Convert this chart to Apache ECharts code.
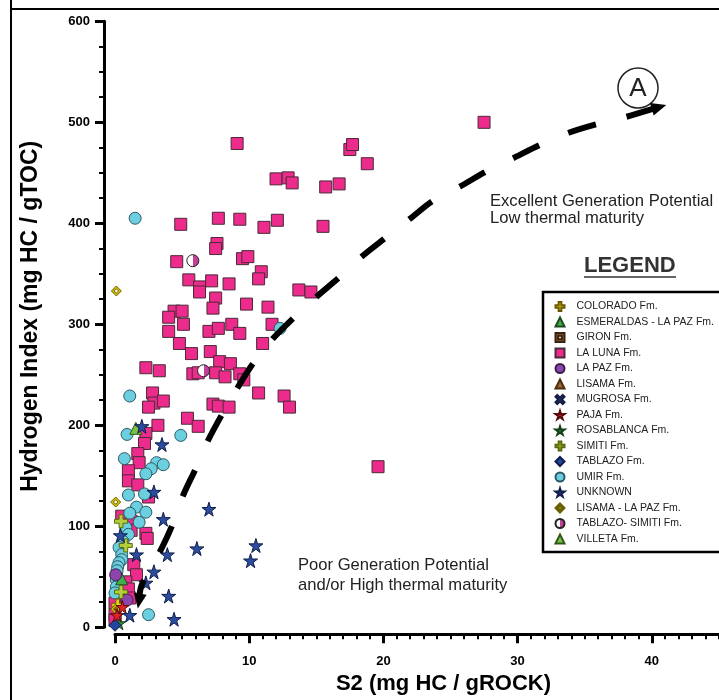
<!DOCTYPE html>
<html>
<head>
<meta charset="utf-8">
<script src="https://cdn.jsdelivr.net/npm/echarts/dist/echarts.min.js"></script>
<style>
html, body { margin: 0; padding: 0; background: #fff; }
#chart { width: 719px; height: 700px; }
</style>
</head>
<body>
<div id="chart"></div>
<script>
// S2 (mg HC/g rock) vs Hydrogen Index, one array per formation
const laLuna = [
    [9.1, 479], [17.5, 473], [17.7, 478], [18.8, 459], [12.0, 444], [12.9, 445], [13.2, 440], [15.7, 436], [16.7, 439],
    [4.9, 399], [7.7, 405], [9.3, 404], [11.1, 396], [12.1, 403], [15.5, 397],
    [7.6, 380], [7.5, 375], [9.5, 365], [9.9, 367], [4.6, 362], [10.9, 352], [10.7, 345], [5.5, 344], [6.3, 337],
    [6.3, 332], [7.2, 343], [8.5, 340], [13.7, 334], [14.6, 332],
    [7.5, 326], [7.3, 316], [9.8, 320], [11.4, 317], [4.4, 313], [4.0, 307], [5.0, 313], [5.1, 300], [4.0, 293],
    [7.0, 293], [7.7, 296], [8.7, 300], [9.3, 291], [11.7, 300],
    [4.8, 281], [11.0, 281], [5.7, 271], [7.1, 273], [7.8, 263], [8.6, 261], [2.3, 257], [3.3, 254], [5.8, 251],
    [6.2, 252], [7.5, 252], [8.2, 248], [9.3, 251], [9.6, 245],
    [10.7, 232], [12.6, 229], [2.8, 232], [2.9, 222], [3.6, 224], [2.5, 218], [7.3, 221], [7.7, 219], [8.5, 218], [13.0, 218],
    [27.5, 500], [19.6, 159],
    [5.4, 207], [6.2, 199], [3.2, 200], [2.3, 192], [2.2, 182], [1.7, 172], [1.8, 163], [1.0, 155], [1.0, 145], [1.7, 141], [2.5, 129],
    [0.5, 110], [1.2, 105], [1.2, 96], [2.3, 93], [2.4, 88], [1.4, 62], [1.6, 52], [0.8, 45], [1.0, 38], [1.1, 29],
    [0.0, 24], [0.0, 12], [0.0, 7]
];
const umir = [
    [1.5, 405], [12.3, 296], [1.1, 229], [0.9, 191], [4.9, 190], [0.7, 167], [3.1, 163], [3.6, 161], [2.7, 157], [2.3, 152],
    [1.0, 131], [2.2, 132], [1.6, 119], [1.1, 113], [2.3, 114], [1.8, 104], [0.8, 99], [1.0, 92], [0.6, 85], [0.3, 79],
    [0.5, 72], [0.5, 67], [0.3, 64], [0.2, 60], [0.15, 56], [0.1, 47], [0.1, 40], [0.0, 34], [2.5, 12.5]
];
const unknown = [
    [2.0, 199], [3.5, 181], [2.9, 134], [7.0, 117], [3.6, 107], [6.1, 78], [3.9, 72], [1.6, 72], [10.5, 81], [10.1, 66],
    [2.9, 55], [2.3, 44], [4.0, 31], [4.4, 8], [1.1, 12], [0.4, 91]
];
const tablazoSimiti = [[5.8, 363], [6.6, 254]];
const lisamaLaPaz = [[0.1, 333], [0.05, 124], [0.05, 18]];
const simiti = [[0.45, 105], [0.8, 81], [0.45, 35]];
const villeta = [[1.55, 197]];
const esmeraldas = [[0.5, 48]];
const laPaz = [[0.05, 52], [0.9, 27]];
const paja = [[0.55, 20], [0.15, 12]];
const tablazo = [[0.0, 2]];
const rosablanca = [[0.3, 4]];
const colorado = [[0.2, 22]];
const mugrosa = [];
const giron = [];
const lisama = [];

// dashed trend arrow "A"
const trendA = [
    [1.79, 25.9], [1.99, 41.9], [3.35, 74.9], [4.22, 99.6], [5.09, 131], [5.96, 155.7], [6.95, 185.4], [7.95, 210.2],
    [9.18, 238.2], [10.3, 261.4], [11.79, 286.1], [13.28, 306], [15.02, 327.3], [16.63, 345.5], [18.37, 366.9],
    [20.1, 385.1], [21.97, 404.3], [23.66, 422.1], [25.69, 436.2], [27.63, 451.1], [29.66, 464.4], [31.65, 477.5],
    [33.8, 489.7], [35.91, 498.3], [38.12, 505.5], [40.54, 515.1]
];

const xTicks = { min: 0, max: 50, step: 10 };
const yTicks = { min: 0, max: 600, step: 100 };

const FONT = "'Liberation Sans', Arial, sans-serif";
const STAR = 'path://M50,0 L61,35 L98,35 L68,57 L79,91 L50,70 L21,91 L32,57 L2,35 L39,35 Z';
const PLUS = 'path://M35,0 H65 V35 H100 V65 H65 V100 H35 V65 H0 V35 H35 Z';
const CROSS = 'path://M20,0 L50,30 L80,0 L100,20 L70,50 L100,80 L80,100 L50,70 L20,100 L0,80 L30,50 L0,20 Z';
const HOLLOW_SQ = 'path://M0,0 H100 V100 H0 Z M30,30 V70 H70 V30 Z';
const HOLLOW_DIA = 'path://M50,0 L100,50 L50,100 L0,50 Z M50,28 L28,50 L50,72 L72,50 Z';

const halfFill = new echarts.graphic.LinearGradient(0, 0, 1, 0, [
    { offset: 0, color: '#ffffff' },
    { offset: 0.5, color: '#ffffff' },
    { offset: 0.5, color: '#c2409a' },
    { offset: 1, color: '#c2409a' }
]);

const formations = [
    ['COLORADO Fm.', colorado, PLUS, 12, '#e8d31c', '#6b5a00'],
    ['ESMERALDAS - LA PAZ Fm.', esmeraldas, 'triangle', 12, '#3fae49', '#1d4d1f'],
    ['GIRON Fm.', giron, HOLLOW_SQ, 11, '#8b5a2b', '#3a2410'],
    ['LA LUNA Fm.', laLuna, 'rect', 12, '#ec2b8c', '#4a2a38'],
    ['LA PAZ Fm.', laPaz, 'circle', 12, '#8e44ad', '#3a1f4a'],
    ['LISAMA Fm.', lisama, 'triangle', 12, '#a0652d', '#4a2e10'],
    ['MUGROSA Fm.', mugrosa, CROSS, 11, '#2c3a7a', '#141c40'],
    ['PAJA Fm.', paja, STAR, 13, '#e02424', '#5a0a0a'],
    ['ROSABLANCA Fm.', rosablanca, STAR, 13, '#2f8f3a', '#153f18'],
    ['SIMITI Fm.', simiti, PLUS, 13, '#b5cf3a', '#5a6a10'],
    ['TABLAZO Fm.', tablazo, 'diamond', 12, '#2346a0', '#0e1d4a'],
    ['UMIR Fm.', umir, 'circle', 12, '#6ccfe0', '#2c5a66'],
    ['UNKNOWN', unknown, STAR, 14, '#2b4c9f', '#0e1d4a'],
    ['LISAMA - LA PAZ Fm.', lisamaLaPaz, HOLLOW_DIA, 10, '#d6c300', '#6b6000'],
    ['TABLAZO- SIMITI Fm.', tablazoSimiti, 'circle', 12, halfFill, '#222'],
    ['VILLETA Fm.', villeta, 'triangle', 12, '#7cc242', '#2f5a18']
];

// draw order: pink squares first, then circles, stars on top
const drawOrder = [3, 11, 0, 1, 2, 4, 5, 6, 8, 9, 10, 13, 14, 15, 7, 12];

const series = drawOrder.map((i) => {
    const f = formations[i];
    return {
        name: f[0],
        type: 'scatter',
        data: f[1],
        symbol: f[2],
        symbolSize: f[3],
        clip: false,
        itemStyle: { color: f[4], borderColor: f[5], borderWidth: 1, opacity: 1 }
    };
});

const last = trendA.length - 1;
series.push({
    name: 'trend',
    type: 'line',
    silent: true,
    clip: false,
    smooth: 0.3,
    symbol: 'none',
    data: trendA.map((p, i) => {
        if (i === 0) return { value: p, symbol: 'triangle', symbolSize: [13, 15], symbolRotate: 170.8 };
        if (i === last) return { value: p, symbol: 'triangle', symbolSize: [13, 15], symbolRotate: -73.3 };
        return p;
    }),
    itemStyle: { color: '#000' },
    lineStyle: { color: '#000', width: 6, type: [29, 31.6], dashOffset: 7, cap: 'butt' },
    z: 5
});

const option = {
    animation: false,
    backgroundColor: '#fff',
    grid: { left: 115, right: -67, top: 21.3, bottom: 72.7, containLabel: false, outerBoundsMode: 'none' },
    xAxis: {
        type: 'value',
        min: xTicks.min,
        max: xTicks.max,
        interval: xTicks.step,
        offset: 7,
        axisLine: { show: true, onZero: false, lineStyle: { color: '#000', width: 3 } },
        axisTick: { show: true, inside: false, length: 9, lineStyle: { color: '#000', width: 3 } },
        minorTick: { show: true, splitNumber: 10, length: 5, lineStyle: { color: '#000', width: 2 } },
        splitLine: { show: false },
        minorSplitLine: { show: false },
        axisLabel: { margin: 21, fontSize: 13, fontWeight: 'bold', color: '#000', fontFamily: FONT },
        name: 'S2 (mg HC / gROCK)',
        nameLocation: 'middle',
        nameGap: 37,
        nameTextStyle: { fontSize: 22, fontWeight: 'bold', color: '#000', fontFamily: FONT, padding: [0, 14, 0, 0] }
    },
    yAxis: {
        type: 'value',
        min: yTicks.min,
        max: yTicks.max,
        interval: yTicks.step,
        offset: 11,
        axisLine: { show: true, onZero: false, lineStyle: { color: '#000', width: 3 } },
        axisTick: { show: true, inside: false, length: 9, lineStyle: { color: '#000', width: 3 } },
        minorTick: { show: true, splitNumber: 4, length: 5, lineStyle: { color: '#000', width: 2 } },
        splitLine: { show: false },
        minorSplitLine: { show: false },
        axisLabel: { margin: 14, fontSize: 13, fontWeight: 'bold', color: '#000', fontFamily: FONT },
        name: 'Hydrogen Index (mg HC / gTOC)',
        nameLocation: 'middle',
        nameGap: 62,
        nameTextStyle: { fontSize: 23, fontWeight: 'bold', color: '#000', fontFamily: FONT, padding: [0, 0, 0, 16] }
    },
    legend: {
        data: formations.map((f) => f[0]),
        orient: 'vertical',
        left: 554.5,
        top: 301,
        padding: 0,
        itemWidth: 9,
        itemHeight: 9,
        itemGap: 4.5,
        selectedMode: false,
        textStyle: { fontSize: 10.5, color: '#222', fontFamily: FONT, padding: [0, 0, 0, 7] }
    },
    graphic: [
        { type: 'line', shape: { x1: 11, y1: 0, x2: 11, y2: 700 }, style: { stroke: '#000', lineWidth: 2 } },
        { type: 'line', shape: { x1: 11, y1: 9, x2: 719, y2: 9 }, style: { stroke: '#000', lineWidth: 2 } },
        { type: 'rect', shape: { x: 543, y: 292, width: 200, height: 260 }, style: { fill: 'none', stroke: '#000', lineWidth: 2.5 } },
        {
            type: 'text', x: 584, y: 266,
            style: { text: 'LEGEND', fontSize: 22, fontWeight: 'bold', fontFamily: FONT, fill: '#333', verticalAlign: 'middle', textVerticalAlign: 'middle' }
        },
        { type: 'line', shape: { x1: 584, y1: 277, x2: 676, y2: 277 }, style: { stroke: '#333', lineWidth: 1.5 } },
        {
            type: 'text', x: 490, y: 201,
            style: { text: 'Excellent Generation Potential', fontSize: 16.6, fontFamily: FONT, fill: '#222', verticalAlign: 'middle', textVerticalAlign: 'middle' }
        },
        {
            type: 'text', x: 490, y: 218,
            style: { text: 'Low thermal maturity', fontSize: 16.6, fontFamily: FONT, fill: '#222', verticalAlign: 'middle', textVerticalAlign: 'middle' }
        },
        {
            type: 'text', x: 298, y: 565,
            style: { text: 'Poor Generation Potential', fontSize: 16.6, fontFamily: FONT, fill: '#222', verticalAlign: 'middle', textVerticalAlign: 'middle' }
        },
        {
            type: 'text', x: 298, y: 585,
            style: { text: 'and/or High thermal maturity', fontSize: 16.6, fontFamily: FONT, fill: '#222', verticalAlign: 'middle', textVerticalAlign: 'middle' }
        },
        { type: 'circle', shape: { cx: 638, cy: 88, r: 20 }, style: { fill: 'none', stroke: '#222', lineWidth: 1.5 } },
        {
            type: 'text', x: 638, y: 89,
            style: { text: 'A', fontSize: 26, fontFamily: FONT, fill: '#222', align: 'center', textAlign: 'center', verticalAlign: 'middle', textVerticalAlign: 'middle' }
        }
    ],
    series: series
};

const myChart = echarts.init(document.getElementById('chart'));
myChart.setOption(option);
</script>
</body>
</html>
